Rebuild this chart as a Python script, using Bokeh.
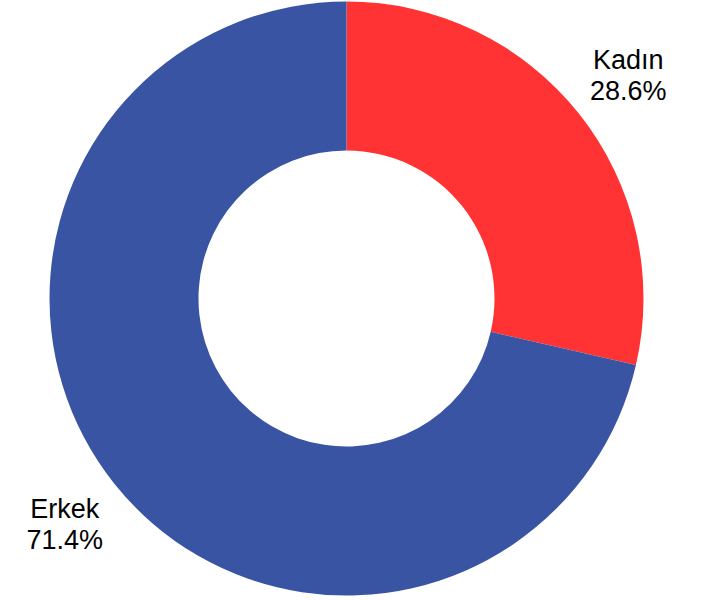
import math
from bokeh.plotting import figure
from bokeh.models import Range1d, ColumnDataSource
from bokeh.core.properties import value
from bokeh.embed import file_html
from bokeh.resources import INLINE

categories = ["Kadın", "Erkek"]
percents = [28.6, 71.4]
colors = ["#FF3333", "#3A54A4"]

W, H = 704, 600
CX, CY = 346, 302
R_OUT, R_IN, R_LAB = 297, 148, 360

total = sum(percents)
starts, ends, lx, ly, pct_txt = [], [], [], [], []
a = math.pi / 2
for v in percents:
    span = 2 * math.pi * v / total
    starts.append(a)
    ends.append(a - span)
    mid = a - span / 2
    lx.append(CX + R_LAB * math.cos(mid))
    ly.append(CY + R_LAB * math.sin(mid))
    pct_txt.append(f"{v:.1f}%")
    a -= span

src = ColumnDataSource(dict(start=starts, end=ends, color=colors,
                            lx=lx, ly=ly, name=categories, pct=pct_txt))

p = figure(width=W, height=H, output_backend="svg", toolbar_location=None,
           x_range=Range1d(0, W), y_range=Range1d(0, H), min_border=0)
p.axis.visible = False
p.grid.visible = False
p.outline_line_color = None
p.background_fill_color = "white"
p.border_fill_color = "white"

p.annular_wedge(x=CX, y=CY, inner_radius=R_IN, outer_radius=R_OUT,
                start_angle="start", end_angle="end", direction="clock",
                fill_color="color", line_color=None, source=src)

common = dict(text_font=value("Liberation Sans"), text_font_size="27px",
              text_color="#000000", text_align="center", text_baseline="middle",
              source=src)
p.text(x="lx", y="ly", text="name", y_offset=-14, **common)
p.text(x="lx", y="ly", text="pct", y_offset=17, **common)

open("out.html", "w").write(file_html(p, INLINE))
